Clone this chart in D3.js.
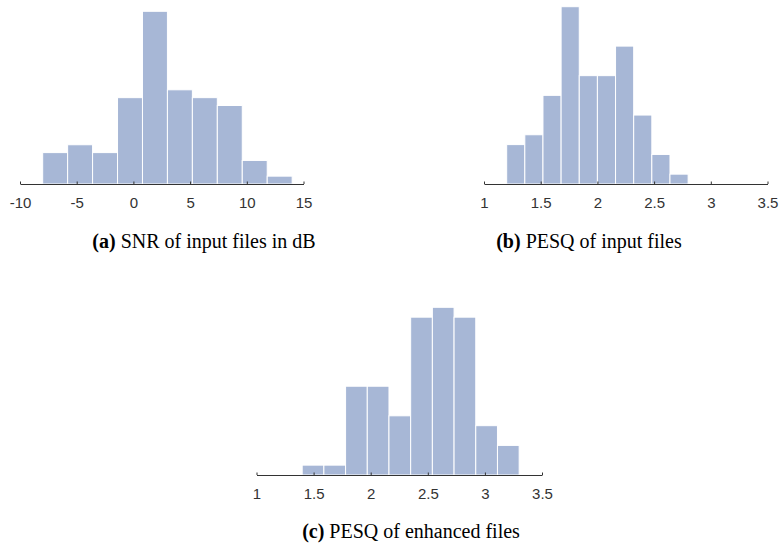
<!DOCTYPE html>
<html>
<head>
<meta charset="utf-8">
<script src="https://cdn.jsdelivr.net/npm/d3@7"></script>
<style>
  html, body { margin: 0; padding: 0; background: #fff; }
  svg { display: block; }
</style>
</head>
<body>
<svg id="chart" width="780" height="547"></svg>
<script>
// ---- Data ----
// (a) SNR of input files in dB
const snrBinStart = -8.0;
const snrBinWidth = 2.2;
const snrCounts = [4, 5, 4, 11, 22, 12, 11, 10, 3, 1];
const snrTicks = [-10, -5, 0, 5, 10, 15];

// (b) PESQ of input files
const pesqInBinStart = 1.2;
const pesqInBinWidth = 0.16;
const pesqInCounts = [4, 5, 9, 18, 11, 11, 14, 7, 3, 1];
const pesqInTicks = [1, 1.5, 2, 2.5, 3, 3.5];

// (c) PESQ of enhanced files
const pesqEnhBinStart = 1.4;
const pesqEnhBinWidth = 0.19;
const pesqEnhCounts = [1, 1, 9, 9, 6, 16, 17, 16, 5, 3];
const pesqEnhTicks = [1, 1.5, 2, 2.5, 3, 3.5];

const captions = [
  {bold: "(a)", text: " SNR of input files in dB"},
  {bold: "(b)", text: " PESQ of input files"},
  {bold: "(c)", text: " PESQ of enhanced files"}
];

// ---- Layout ----
const panels = [
  {start: snrBinStart, width: snrBinWidth, counts: snrCounts, ticks: snrTicks,
   xDomain: [-10, 15], xRange: [20, 303.5], yMax: 22, base: 184, top: 11.3,
   cap: captions[0], capX: 204, capY: 248},
  {start: pesqInBinStart, width: pesqInBinWidth, counts: pesqInCounts, ticks: pesqInTicks,
   xDomain: [1, 3.5], xRange: [484, 767.5], yMax: 18, base: 184, top: 6.7,
   cap: captions[1], capX: 589, capY: 248},
  {start: pesqEnhBinStart, width: pesqEnhBinWidth, counts: pesqEnhCounts, ticks: pesqEnhTicks,
   xDomain: [1, 3.5], xRange: [256.5, 542], yMax: 17, base: 475, top: 307.3,
   cap: captions[2], capX: 411, capY: 538}
];

const svg = d3.select("#chart");
const barColor = "#a7b7d6";

panels.forEach(p => {
  const g = svg.append("g");
  const x = d3.scaleLinear().domain(p.xDomain).range(p.xRange);
  const y = d3.scaleLinear().domain([0, p.yMax]).range([p.base, p.top]);

  const bins = p.counts.map((c, i) => ({
    x0: p.start + i * p.width,
    x1: p.start + (i + 1) * p.width,
    c: c
  }));

  g.selectAll("rect.bar")
    .data(bins)
    .enter().append("rect")
    .attr("class", "bar")
    .attr("x", d => x(d.x0))
    .attr("width", d => x(d.x1) - x(d.x0))
    .attr("y", d => y(d.c))
    .attr("height", d => y(0) - y(d.c))
    .attr("fill", barColor)
    .attr("stroke", "#ffffff")
    .attr("stroke-width", 1);

  const axis = d3.axisBottom(x)
    .tickValues(p.ticks)
    .tickFormat(d => d)
    .tickSizeInner(-2.5)
    .tickSizeOuter(0)
    .tickPadding(13);

  const ag = g.append("g")
    .attr("transform", `translate(0,${p.base})`)
    .call(axis);
  ag.select(".domain").attr("stroke", "#333").attr("stroke-width", 1.2);
  ag.selectAll(".tick line").attr("stroke", "#333");
  ag.selectAll(".tick text")
    .attr("fill", "#333")
    .style("font-family", "'Liberation Sans', Arial, sans-serif")
    .style("font-size", "15px");

  const t = svg.append("text")
    .attr("x", p.capX)
    .attr("y", p.capY)
    .attr("text-anchor", "middle")
    .style("font-family", "'Liberation Serif', 'Times New Roman', serif")
    .style("font-size", "20px")
    .attr("fill", "#000");
  t.append("tspan").style("font-weight", "bold").text(p.cap.bold);
  t.append("tspan").text(p.cap.text);
});
</script>
</body>
</html>
